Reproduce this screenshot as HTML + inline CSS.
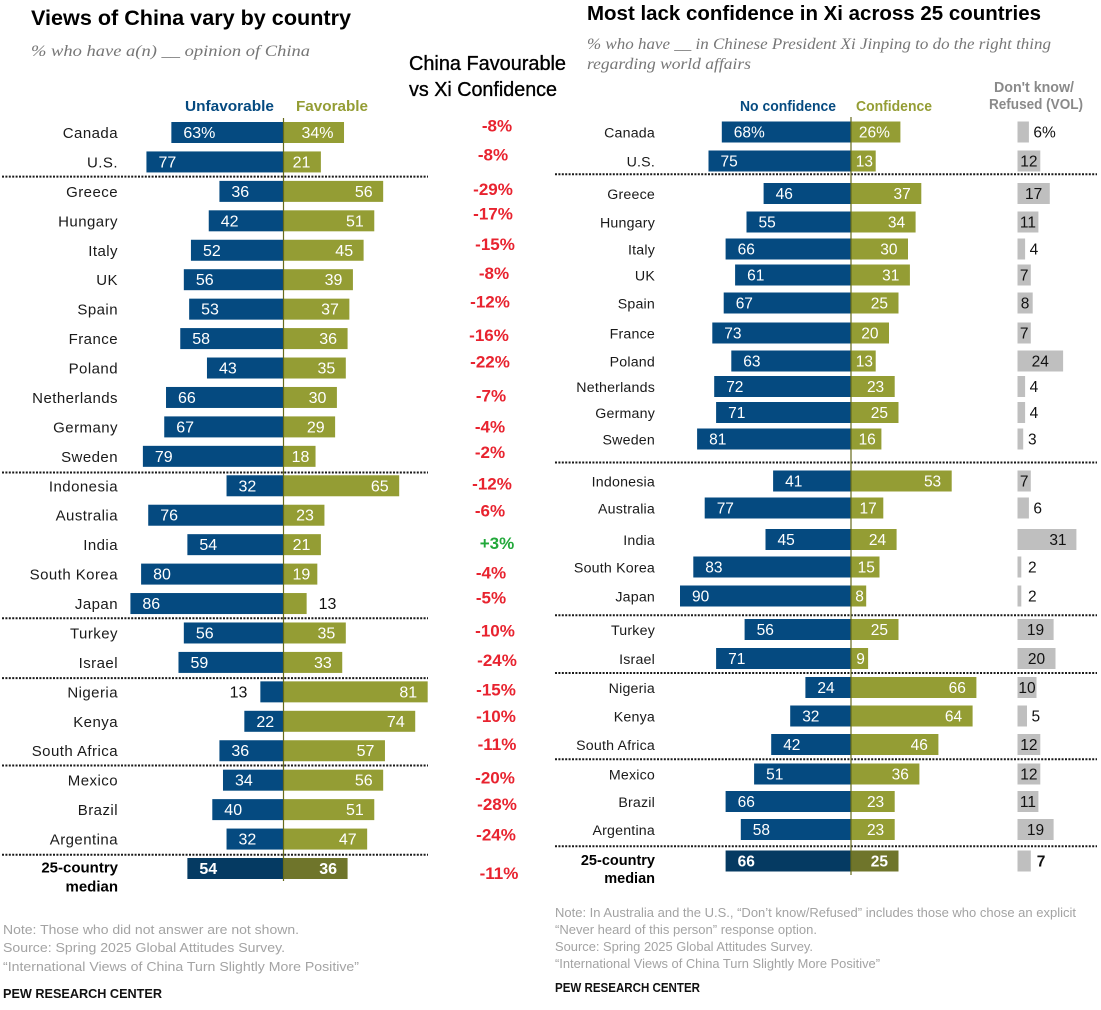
<!DOCTYPE html>
<html lang="en">
<head>
<meta charset="utf-8">
<title>Views of China and confidence in Xi</title>
<style>
html,body{margin:0;padding:0;background:#fff;}
svg{display:block;font-family:"Liberation Sans",Arial,sans-serif;}
.sub{font-family:"Liberation Serif",serif;font-style:italic;font-size:16px;fill:#767676;}
.ttl{font-weight:700;fill:#000;}
.note{font-size:13px;fill:#a3a3a3;}
.pew{font-size:13px;font-weight:700;fill:#111;}
.hdr{font-size:14.5px;font-weight:700;}
.cmp{stroke:#000;stroke-width:0.35px;}
</style>
</head>
<body>
<svg id="chart" xmlns="http://www.w3.org/2000/svg" width="1101" height="1010" viewBox="0 0 1101 1010">
  <text class="ttl" x="31" y="25" font-size="21" textLength="320" lengthAdjust="spacingAndGlyphs">Views of China vary by country</text>
  <text class="sub" x="31" y="56" textLength="279" lengthAdjust="spacingAndGlyphs">% who have a(n) __ opinion of China</text>
  <text class="ttl" x="587" y="20" font-size="20" textLength="454" lengthAdjust="spacingAndGlyphs">Most lack confidence in Xi across 25 countries</text>
  <text class="sub" x="587" y="49" textLength="464" lengthAdjust="spacingAndGlyphs">% who have __ in Chinese President Xi Jinping to do the right thing</text>
  <text class="sub" x="587" y="69" textLength="164" lengthAdjust="spacingAndGlyphs">regarding world affairs</text>
  <text class="cmp" x="409" y="70" font-size="20" fill="#000" textLength="157" lengthAdjust="spacingAndGlyphs">China Favourable</text>
  <text class="cmp" x="409" y="96" font-size="20" fill="#000" textLength="148" lengthAdjust="spacingAndGlyphs">vs Xi Confidence</text>

  <text class="hdr" x="185" y="111" fill="#054a80" textLength="89" lengthAdjust="spacingAndGlyphs">Unfavorable</text>
  <text class="hdr" x="296" y="111" fill="#949d34" textLength="72" lengthAdjust="spacingAndGlyphs">Favorable</text>
  <text class="hdr" x="740" y="111" fill="#054a80" textLength="96" lengthAdjust="spacingAndGlyphs">No confidence</text>
  <text class="hdr" x="856" y="111" fill="#949d34" textLength="76" lengthAdjust="spacingAndGlyphs">Confidence</text>
  <text class="hdr" x="994" y="92" fill="#8a8a8a" font-size="13.5" textLength="80" lengthAdjust="spacingAndGlyphs">Don't know/</text>
  <text class="hdr" x="989" y="109" fill="#8a8a8a" font-size="13.5" textLength="94" lengthAdjust="spacingAndGlyphs">Refused (VOL)</text>

  <text class="note" x="3" y="934" textLength="296" lengthAdjust="spacingAndGlyphs">Note: Those who did not answer are not shown.</text>
  <text class="note" x="3" y="952" textLength="282" lengthAdjust="spacingAndGlyphs">Source: Spring 2025 Global Attitudes Survey.</text>
  <text class="note" x="3" y="971" textLength="356" lengthAdjust="spacingAndGlyphs">“International Views of China Turn Slightly More Positive”</text>
  <text class="pew" x="3" y="998" textLength="159" lengthAdjust="spacingAndGlyphs">PEW RESEARCH CENTER</text>
  <text class="note" x="555" y="917" textLength="521" lengthAdjust="spacingAndGlyphs">Note: In Australia and the U.S., “Don’t know/Refused” includes those who chose an explicit</text>
  <text class="note" x="555" y="934" textLength="262" lengthAdjust="spacingAndGlyphs">“Never heard of this person” response option.</text>
  <text class="note" x="555" y="951" textLength="258" lengthAdjust="spacingAndGlyphs">Source: Spring 2025 Global Attitudes Survey.</text>
  <text class="note" x="555" y="968" textLength="325" lengthAdjust="spacingAndGlyphs">“International Views of China Turn Slightly More Positive”</text>
  <text class="pew" x="555" y="992" textLength="145" lengthAdjust="spacingAndGlyphs">PEW RESEARCH CENTER</text>
</svg>
<script>
// ---- Data ----
const leftCategories = ["Canada","U.S.","Greece","Hungary","Italy","UK","Spain","France","Poland","Netherlands","Germany","Sweden","Indonesia","Australia","India","South Korea","Japan","Turkey","Israel","Nigeria","Kenya","South Africa","Mexico","Brazil","Argentina","25-country median"];
const unfavorable = [63,77,36,42,52,56,53,58,43,66,67,79,32,76,54,80,86,56,59,13,22,36,34,40,32,54];
const favorable = [34,21,56,51,45,39,37,36,35,30,29,18,65,23,21,19,13,35,33,81,74,57,56,51,47,36];
const xiGapLabels = ["-8%","-8%","-29%","-17%","-15%","-8%","-12%","-16%","-22%","-7%","-4%","-2%","-12%","-6%","+3%","-4%","-5%","-10%","-24%","-15%","-10%","-11%","-20%","-28%","-24%","-11%"];

const rightCategories = ["Canada","U.S.","Greece","Hungary","Italy","UK","Spain","France","Poland","Netherlands","Germany","Sweden","Indonesia","Australia","India","South Korea","Japan","Turkey","Israel","Nigeria","Kenya","South Africa","Mexico","Brazil","Argentina","25-country median"];
const noConfidence = [68,75,46,55,66,61,67,73,63,72,71,81,41,77,45,83,90,56,71,24,32,42,51,66,58,66];
const confidence = [26,13,37,34,30,31,25,20,13,23,25,16,53,17,24,15,8,25,9,66,64,46,36,23,23,25];
const dontKnow = [6,12,17,11,4,7,8,7,24,4,4,3,7,6,31,2,2,19,20,10,5,12,12,11,19,7];

// Index of the last row in each regional group
const groupEnds = [1,11,16,18,21,24];

// ---- Layout (not data) ----
const leftRowStart = 132.5;
const leftRowStep = 29.44;
const rightRowStart = 132;
const rightRowGaps = [29,32.5,28.5,27,26,28,30,28,25.5,26,26.5,42,27,31.5,27.5,29,33.5,29,29,28.5,28.5,29.5,27.5,28,31.5];
const leftSeparatorShift = [0,1.5,0,1,0,1];
const rightSeparatorShift = [-3,2.5,2.5,0,0,1];
const gapLabelNudgeX = [497,493,493,493,495,494,490,489,490,491,490,490,492,490,497,491,491,495,497,496,496,497,495,497,496,499];
const gapLabelNudgeY = [-6.5,-7,-2,-7,-6,-6,-7,-3,-6,-1.5,0,-4,-2,-4,-1,-1,-5.5,-2,-2,-2,-5,-6,-2,-5,-4,5];

const BLUE = "#054a80", OLIVE = "#949d34", BLUE_DARK = "#053a62", OLIVE_DARK = "#6f752b", GREY = "#bfbfbf", AXIS = "#666a1c";
const BAR_H = 21;
const svg = document.getElementById("chart");
const NS = "http://www.w3.org/2000/svg";

function leftRowY(i){ return leftRowStart + leftRowStep * i; }
function rightRowY(i){
  let y = rightRowStart;
  for (let k = 0; k < i; k++) { y += rightRowGaps[k]; }
  return y;
}
function slug(s){ return s.toLowerCase().replace(/[^a-z0-9]+/g, "-"); }

function addRect(name, x, y, w, h, fill){
  const el = document.createElementNS(NS, "rect");
  el.setAttribute("x", x);
  el.setAttribute("y", y);
  el.setAttribute("width", w);
  el.setAttribute("height", h);
  el.setAttribute("fill", fill);
  
  
  svg.appendChild(el);
  return el;
}
function addLabel(name, str, x, y, anchor, fill, size, bold){
  const el = document.createElementNS(NS, "text");
  el.textContent = str;
  el.setAttribute("x", x);
  el.setAttribute("y", y);
  el.setAttribute("text-anchor", anchor);
  el.setAttribute("fill", fill);
  el.setAttribute("font-size", size);
  if (bold) { el.setAttribute("font-weight", "700"); }
  
  
  svg.appendChild(el);
  return el;
}
function addLine(name, x1, y1, x2, y2, stroke, width, dash){
  const el = document.createElementNS(NS, "line");
  el.setAttribute("x1", x1);
  el.setAttribute("y1", y1);
  el.setAttribute("x2", x2);
  el.setAttribute("y2", y2);
  el.setAttribute("stroke", stroke);
  el.setAttribute("stroke-width", width);
  if (dash) { el.setAttribute("stroke-dasharray", dash); }
  
  
  svg.appendChild(el);
  return el;
}

function drawPanel(p){
  const n = p.categories.length;
  const last = n - 1;
  for (let i = 0; i < n; i++) {
    const cy = p.rowY(i);
    const isMed = i === last;
    const key = p.id + "-" + slug(p.categories[i]);
    const suffix = i === 0 ? "%" : "";
    const ty = cy + 5.5;
    // category label
    if (isMed) {
      addLabel(key + "-label-line-1", "25-country", p.labelX, cy + p.medianLine1, "end", "#000", p.medianSize, true);
      addLabel(key + "-label-line-2", "median", p.labelX, cy + p.medianLine2, "end", "#000", p.medianSize, true);
    } else {
      const c = addLabel(key + "-label", p.categories[i], p.labelX, ty, "end", "#1a1a1a", p.labelSize, false);
      c.setAttribute("letter-spacing", p.labelSpacing);
    }
    // negative-side bar
    const nv = p.neg[i];
    const nLeft = p.xNeg(nv);
    addRect(key + "-" + p.negName + "-bar", nLeft, cy - BAR_H / 2, p.axisX - nLeft, BAR_H, isMed ? BLUE_DARK : BLUE);
    if (nv * p.scale < 25) {
      addLabel(key + "-" + p.negName + "-value", nv + suffix, nLeft - 13, ty, "end", "#111", p.valueSize, isMed);
    } else {
      addLabel(key + "-" + p.negName + "-value", nv + suffix, nLeft + 12, ty, "start", "#fff", p.valueSize, isMed);
    }
    // positive-side bar
    const pv = p.pos[i];
    const pRight = p.xPos(pv);
    addRect(key + "-" + p.posName + "-bar", p.axisX, cy - BAR_H / 2, pRight - p.axisX, BAR_H, isMed ? OLIVE_DARK : OLIVE);
    const w = pRight - p.axisX;
    if (w < p.outsideBelow) {
      addLabel(key + "-" + p.posName + "-value", pv + suffix, pRight + 12, ty, "start", "#111", p.valueSize, isMed);
    } else if (w < 34) {
      addLabel(key + "-" + p.posName + "-value", pv + suffix, p.axisX + w / 2 + 1, ty, "middle", "#fff", p.valueSize, isMed);
    } else {
      addLabel(key + "-" + p.posName + "-value", pv + suffix, pRight - 10.5, ty, "end", "#fff", p.valueSize, isMed);
    }
    // third column
    if (p.third) {
      const tv = p.third[i];
      const tRight = p.xThird(tv);
      addRect(key + "-dont-know-bar", p.thirdX, cy - BAR_H / 2, tRight - p.thirdX, BAR_H, GREY);
      if (isMed) {
        addLabel(key + "-dont-know-value", tv + suffix, tRight + 6, ty, "start", "#111", p.valueSize, true);
      } else if (tv < 7) {
        addLabel(key + "-dont-know-value", tv + suffix, Math.max(tRight + 4.5, p.thirdX + 10.5), ty, "start", "#111", p.valueSize, false);
      } else {
        addLabel(key + "-dont-know-value", tv + suffix, (p.thirdX + tRight) / 2 + (tv > 24 ? 11 : 0), ty, "middle", "#111", p.valueSize, false);
      }
    }
  }
  // separators
  for (let g = 0; g < p.groups.length; g++) {
    const e = p.groups[g];
    const sy = (p.rowY(e) + p.rowY(e + 1)) / 2 + p.sepShift[g];
    addLine(p.id + "-group-separator-" + (g + 1), p.sepX1, sy, p.sepX2, sy, "#1a1a1a", 2, "2 1.4");
  }
  // zero axis
  addLine(p.id + "-zero-axis", p.axisX, p.axisTop, p.axisX, p.axisBottom, AXIS, 1.2);
}

const leftScale = 1.78;
drawPanel({
  id: "left", categories: leftCategories, neg: unfavorable, pos: favorable, third: null,
  negName: "unfavorable", posName: "favorable", rowY: leftRowY,
  axisX: 283.5, scale: leftScale,
  xNeg: function(v){ return 283.5 - v * leftScale; },
  xPos: function(v){ return 283.5 + v * leftScale; },
  labelX: 118, labelSize: 15, labelSpacing: "0.45", valueSize: 16, medianSize: 15,
  medianLine1: 4, medianLine2: 23,
  outsideBelow: 25, groups: groupEnds, sepShift: leftSeparatorShift, sepX1: 2, sepX2: 428,
  axisTop: 118, axisBottom: 881
});

const rightScale = 1.9;
drawPanel({
  id: "right", categories: rightCategories, neg: noConfidence, pos: confidence, third: dontKnow,
  negName: "no-confidence", posName: "confidence", rowY: rightRowY,
  axisX: 851, scale: rightScale,
  xNeg: function(v){ return 851 - v * rightScale; },
  xPos: function(v){ return 851 + v * rightScale; },
  thirdX: 1017.5,
  xThird: function(v){ return 1017.5 + v * rightScale; },
  labelX: 655, labelSize: 14.2, labelSpacing: "0.2", valueSize: 15.5, medianSize: 14.5,
  medianLine1: 4, medianLine2: 22,
  outsideBelow: 0, groups: groupEnds, sepShift: rightSeparatorShift, sepX1: 555, sepX2: 1097,
  axisTop: 117, axisBottom: 875
});

// Hand-annotated gap column between the two charts
for (let i = 0; i < xiGapLabels.length; i++) {
  const positive = xiGapLabels[i].charAt(0) === "+";
  addLabel("gap-label-" + slug(leftCategories[i]), xiGapLabels[i], gapLabelNudgeX[i], leftRowY(i) + gapLabelNudgeY[i] + 5.5, "middle", positive ? "#22a83a" : "#e8232f", 17, true);
}
</script>
</body>
</html>
